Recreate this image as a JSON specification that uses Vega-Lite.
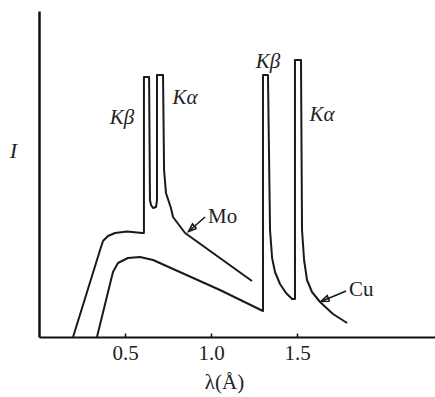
{
  "$schema": "https://vega.github.io/schema/vega-lite/v6.json",
  "width": 396,
  "height": 326,
  "autosize": "none",
  "padding": {"left": 39, "top": 11, "right": 0, "bottom": 60},
  "background": "white",
  "config": {"view": {"stroke": null}, "font": "Liberation Serif"},
  "datasets": {
    "curves": [
      {"s": "Mo", "i": 1, "x": 0.198, "I": 0},
      {"s": "Mo", "i": 2, "x": 0.355, "I": 87},
      {"s": "Mo", "i": 3, "x": 0.372, "I": 96},
      {"s": "Mo", "i": 4, "x": 0.401, "I": 101},
      {"s": "Mo", "i": 5, "x": 0.442, "I": 104},
      {"s": "Mo", "i": 6, "x": 0.512, "I": 105.5},
      {"s": "Mo", "i": 7, "x": 0.599, "I": 104},
      {"s": "Mo", "i": 8, "x": 0.61, "I": 104},
      {"s": "Mo", "i": 9, "x": 0.61, "I": 260},
      {"s": "Mo", "i": 10, "x": 0.64, "I": 260},
      {"s": "Mo", "i": 11, "x": 0.645, "I": 137},
      {"s": "Mo", "i": 12, "x": 0.651, "I": 132},
      {"s": "Mo", "i": 13, "x": 0.663, "I": 129},
      {"s": "Mo", "i": 14, "x": 0.68, "I": 130},
      {"s": "Mo", "i": 15, "x": 0.686, "I": 137},
      {"s": "Mo", "i": 16, "x": 0.686, "I": 262},
      {"s": "Mo", "i": 17, "x": 0.721, "I": 262},
      {"s": "Mo", "i": 18, "x": 0.727, "I": 167},
      {"s": "Mo", "i": 19, "x": 0.738, "I": 144},
      {"s": "Mo", "i": 20, "x": 0.767, "I": 129},
      {"s": "Mo", "i": 21, "x": 0.779, "I": 120},
      {"s": "Mo", "i": 22, "x": 0.849, "I": 104},
      {"s": "Mo", "i": 23, "x": 1.238, "I": 56},
      {"s": "Cu", "i": 1, "x": 0.337, "I": 0},
      {"s": "Cu", "i": 2, "x": 0.43, "I": 65},
      {"s": "Cu", "i": 3, "x": 0.459, "I": 74},
      {"s": "Cu", "i": 4, "x": 0.517, "I": 79},
      {"s": "Cu", "i": 5, "x": 0.587, "I": 80},
      {"s": "Cu", "i": 6, "x": 0.663, "I": 77},
      {"s": "Cu", "i": 7, "x": 1.052, "I": 47},
      {"s": "Cu", "i": 8, "x": 1.302, "I": 26},
      {"s": "Cu", "i": 9, "x": 1.302, "I": 262},
      {"s": "Cu", "i": 10, "x": 1.331, "I": 262},
      {"s": "Cu", "i": 11, "x": 1.343, "I": 107},
      {"s": "Cu", "i": 12, "x": 1.355, "I": 79},
      {"s": "Cu", "i": 13, "x": 1.372, "I": 65},
      {"s": "Cu", "i": 14, "x": 1.401, "I": 53},
      {"s": "Cu", "i": 15, "x": 1.436, "I": 44},
      {"s": "Cu", "i": 16, "x": 1.471, "I": 38},
      {"s": "Cu", "i": 17, "x": 1.488, "I": 38},
      {"s": "Cu", "i": 18, "x": 1.488, "I": 277},
      {"s": "Cu", "i": 19, "x": 1.523, "I": 277},
      {"s": "Cu", "i": 20, "x": 1.529, "I": 107},
      {"s": "Cu", "i": 21, "x": 1.541, "I": 77},
      {"s": "Cu", "i": 22, "x": 1.558, "I": 57},
      {"s": "Cu", "i": 23, "x": 1.587, "I": 45},
      {"s": "Cu", "i": 24, "x": 1.634, "I": 35},
      {"s": "Cu", "i": 25, "x": 1.709, "I": 23},
      {"s": "Cu", "i": 26, "x": 1.791, "I": 14}
    ],
    "arrows": [
      {"s": "MoShaft", "i": 1, "x": 0.9651, "I": 120},
      {"s": "MoShaft", "i": 2, "x": 0.8692, "I": 105.5},
      {"s": "MoHead", "i": 1, "x": 0.9157, "I": 108.5},
      {"s": "MoHead", "i": 2, "x": 0.8692, "I": 105.5},
      {"s": "MoHead", "i": 3, "x": 0.8924, "I": 113},
      {"s": "MoHead", "i": 4, "x": 0.9157, "I": 108.5},
      {"s": "CuShaft", "i": 1, "x": 1.7849, "I": 46},
      {"s": "CuShaft", "i": 2, "x": 1.6395, "I": 35.5},
      {"s": "CuHead", "i": 1, "x": 1.689, "I": 35.8},
      {"s": "CuHead", "i": 2, "x": 1.6395, "I": 35.5},
      {"s": "CuHead", "i": 3, "x": 1.6756, "I": 41.4},
      {"s": "CuHead", "i": 4, "x": 1.689, "I": 35.8}
    ],
    "klabels": [
      {"t": "Kβ", "x": 0.483, "I": 219},
      {"t": "Kα", "x": 0.849, "I": 239},
      {"t": "Kβ", "x": 1.331, "I": 275},
      {"t": "Kα", "x": 1.645, "I": 222}
    ],
    "mlabels": [
      {"t": "Mo", "x": 0.983, "I": 120},
      {"t": "Cu", "x": 1.802, "I": 47}
    ]
  },
  "layer": [
    {
      "data": {"name": "curves"},
      "mark": {"type": "line", "color": "#1a1a1a", "strokeWidth": 2, "strokeJoin": "round"},
      "encoding": {
        "x": {
          "field": "x", "type": "quantitative",
          "scale": {"domain": [0, 2.302], "nice": false, "zero": false},
          "axis": {
            "values": [0.5, 1.0, 1.5], "format": ".1f", "grid": false,
            "domainColor": "#111", "domainWidth": 2,
            "tickColor": "#111", "tickWidth": 1.5, "tickSize": -4,
            "labelFont": "Liberation Serif", "labelFontSize": 21, "labelColor": "#222",
            "labelPadding": 9,
            "title": "λ(Å)", "titleFont": "Liberation Serif", "titleFontSize": 21,
            "titleFontWeight": "normal", "titleColor": "#222",
            "titleX": 185, "titleY": 51, "titleBaseline": "alphabetic", "titleAlign": "center"
          }
        },
        "y": {
          "field": "I", "type": "quantitative",
          "scale": {"domain": [0, 326], "nice": false},
          "axis": {
            "ticks": false, "labels": false, "grid": false,
            "domainColor": "#111", "domainWidth": 2.5,
            "title": "I", "titleAngle": 0, "titleFont": "Liberation Serif",
            "titleFontSize": 22, "titleFontStyle": "italic", "titleFontWeight": "normal",
            "titleColor": "#222", "titleX": -26, "titleY": 139,
            "titleAlign": "center", "titleBaseline": "middle"
          }
        },
        "detail": {"field": "s"},
        "order": {"field": "i", "type": "quantitative"}
      }
    },
    {
      "data": {"name": "arrows"},
      "mark": {"type": "line", "color": "#1a1a1a", "strokeWidth": 1.6, "strokeJoin": "miter"},
      "encoding": {
        "x": {"field": "x", "type": "quantitative"},
        "y": {"field": "I", "type": "quantitative"},
        "detail": {"field": "s"},
        "order": {"field": "i", "type": "quantitative"}
      }
    },
    {
      "data": {"name": "klabels"},
      "mark": {"type": "text", "font": "Liberation Serif", "fontSize": 21, "fontStyle": "italic", "color": "#222", "align": "center", "baseline": "middle"},
      "encoding": {
        "x": {"field": "x", "type": "quantitative"},
        "y": {"field": "I", "type": "quantitative"},
        "text": {"field": "t"}
      }
    },
    {
      "data": {"name": "mlabels"},
      "mark": {"type": "text", "font": "Liberation Serif", "fontSize": 21, "color": "#222", "align": "left", "baseline": "middle"},
      "encoding": {
        "x": {"field": "x", "type": "quantitative"},
        "y": {"field": "I", "type": "quantitative"},
        "text": {"field": "t"}
      }
    }
  ]
}
